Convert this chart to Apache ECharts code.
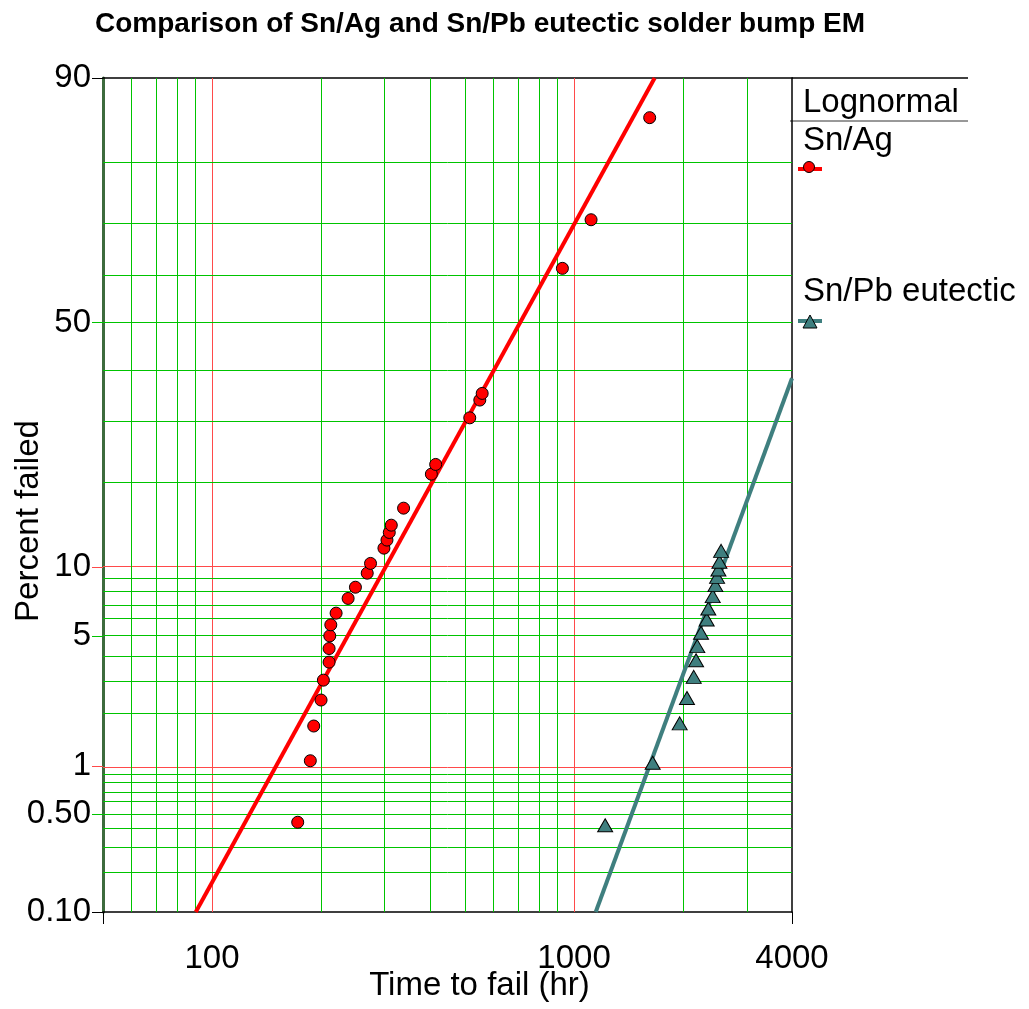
<!DOCTYPE html>
<html>
<head>
<meta charset="utf-8">
<title>Sn/Ag vs Sn/Pb EM</title>
<script src="https://cdn.jsdelivr.net/npm/echarts@6/dist/echarts.min.js"></script>
<style>
    html, body { margin: 0; padding: 0; background: #fff; }
    #chart { width: 1029px; height: 1009px; }
</style>
</head>
<body>
<div id="chart"></div>
<script>
// Sn/Ag 失效点 (小时, 失效百分比)
var snAgHours = [172.5, 186.9, 191.0, 200.1, 203.1, 210.6, 210.6, 211.5, 212.9, 220.2, 237.7, 249.0, 268.4, 274.1, 298.5, 304.3, 308.8, 312.8, 338.2, 403.6, 414.8, 515.2, 549.2, 557.6, 928.8, 1114.5, 1617.9];
var snAgPercent = [0.44, 1.08, 1.72, 2.39, 3.04, 3.75, 4.37, 5.02, 5.65, 6.38, 7.40, 8.26, 9.44, 10.33, 11.84, 12.70, 13.55, 14.40, 16.52, 21.33, 22.84, 30.86, 34.21, 35.50, 61.17, 70.49, 85.85];
// Sn/Pb eutectic 失效点
var snPbHours = [1219, 1649, 1958, 2051, 2141, 2173, 2190, 2243, 2325, 2349, 2416, 2457, 2484, 2505, 2521, 2548];
var snPbPercent = [0.42, 1.05, 1.78, 2.45, 3.16, 3.83, 4.49, 5.19, 5.97, 6.69, 7.57, 8.43, 9.12, 9.77, 10.48, 11.56];
// 拟合直线端点
var snAgFitHours = [90.2, 1670];
var snAgFitPercent = [0.1, 90];
var snPbFitHours = [1148, 4000];
var snPbFitPercent = [0.1, 38.5];

// 坐标轴 & 网格线
var xMin = 50, xMax = 4000;
var xLabelValues = [100, 1000, 4000];
var xMajorLines = [100, 1000];
var xMinorLines = [60, 70, 80, 90, 200, 300, 400, 500, 600, 700, 800, 900, 2000, 3000];
var yMin = 0.1, yMax = 90;
var yLabelValues = [0.1, 0.5, 1, 5, 10, 50, 90];
var yLabelTexts = ['0.10', '0.50', '1', '5', '10', '50', '90'];
var yMajorLines = [1, 10];
var yMinorLines = [0.2, 0.3, 0.4, 0.5, 0.6, 0.7, 0.8, 0.9, 2, 3, 4, 5, 6, 7, 8, 9, 20, 30, 40, 50, 60, 70, 80];

var FONT = 'Liberation Sans, Arial, sans-serif';
var RED = '#ff0000', TEAL = '#3f7f7f', GREEN = '#00c400', GRID_RED = '#ff4a4a';

// 正态概率纸: 百分比 -> 标准正态分位数 (Acklam 近似)
function probit(pct) {
    var p = pct / 100;
    var a = [-3.969683028665376e+01, 2.209460984245205e+02, -2.759285104469687e+02, 1.383577518672690e+02, -3.066479806614716e+01, 2.506628277459239e+00];
    var b = [-5.447609879822406e+01, 1.615858368580409e+02, -1.556989798598866e+02, 6.680131188771972e+01, -1.328068155288572e+01];
    var c = [-7.784894002430293e-03, -3.223964580411365e-01, -2.400758277161838e+00, -2.549732539343734e+00, 4.374664141464968e+00, 2.938163982698783e+00];
    var d = [7.784695709041462e-03, 3.224671290700398e-01, 2.445134137142996e+00, 3.754408661907416e+00];
    var plow = 0.02425, q, r;
    if (p < plow) {
        q = Math.sqrt(-2 * Math.log(p));
        return (((((c[0]*q+c[1])*q+c[2])*q+c[3])*q+c[4])*q+c[5]) / ((((d[0]*q+d[1])*q+d[2])*q+d[3])*q+1);
    }
    if (p > 1 - plow) {
        q = Math.sqrt(-2 * Math.log(1 - p));
        return -(((((c[0]*q+c[1])*q+c[2])*q+c[3])*q+c[4])*q+c[5]) / ((((d[0]*q+d[1])*q+d[2])*q+d[3])*q+1);
    }
    q = p - 0.5; r = q * q;
    return (((((a[0]*r+a[1])*r+a[2])*r+a[3])*r+a[4])*r+a[5])*q / (((((b[0]*r+b[1])*r+b[2])*r+b[3])*r+b[4])*r+1);
}

function pairs(xs, ps) {
    return xs.map(function(x, i){ return [x, probit(ps[i])]; });
}

function yLabel(v) {
    for (var i = 0; i < yLabelValues.length; i++) {
        if (Math.abs(probit(yLabelValues[i]) - v) < 1e-6) return yLabelTexts[i];
    }
    return '';
}

// 网格线用 markLine 画 (绿色细线 / 红色主线)
function gridMarks(xs, ys, color) {
    var data = [];
    xs.forEach(function(v){ data.push({ xAxis: v }); });
    ys.forEach(function(v){ data.push({ yAxis: probit(v) }); });
    return {
        silent: true, symbol: 'none', z: 1, animation: false,
        label: { show: false },
        emphasis: { disabled: true },
        lineStyle: { type: 'solid', width: 1, color: color, opacity: 1 },
        data: data
    };
}

function tickAxisX(values, color, len) {
    return {
        type: 'log', logBase: 10, min: xMin, max: xMax, position: 'bottom',
        axisLine: { show: false }, splitLine: { show: false }, axisLabel: { show: false },
        axisTick: { show: true, customValues: values, length: len, lineStyle: { color: color, width: 1 } }
    };
}
function tickAxisY(values, color, len) {
    return {
        type: 'value', min: probit(yMin), max: probit(yMax), position: 'left',
        axisLine: { show: false }, splitLine: { show: false }, axisLabel: { show: false },
        axisTick: { show: true, customValues: values.map(probit), length: len, lineStyle: { color: color, width: 1 } }
    };
}

var chart = echarts.init(document.getElementById('chart'));
var option = {
    animation: false,
    backgroundColor: '#fff',
    title: {
        text: 'Comparison of Sn/Ag and Sn/Pb eutectic solder bump EM',
        left: 90, top: 5,
        textStyle: { fontFamily: FONT, fontSize: 28, fontWeight: 'bold', color: '#000' }
    },
    grid: { left: 103, right: 237, top: 78, bottom: 97, containLabel: false, outerBoundsMode: 'none' },
    xAxis: [
        {
            type: 'log', logBase: 10, min: xMin, max: xMax, position: 'bottom',
            name: 'Time to fail (hr)', nameLocation: 'middle', nameGap: 57, nameMoveOverlap: false,
            nameTextStyle: { fontFamily: FONT, fontSize: 33, color: '#000', padding: [0, 0, 0, 64] },
            axisLine: { onZero: false, lineStyle: { color: '#000', width: 1.5 } },
            axisTick: { show: true, customValues: [xMin, xMax], length: 12, lineStyle: { color: '#000' } },
            axisLabel: {
                customValues: xLabelValues, formatter: function(v){ return String(Math.round(v)); },
                fontFamily: FONT, fontSize: 33, color: '#000', margin: 30
            },
            splitLine: { show: false }
        },
        tickAxisX(xMajorLines, GRID_RED, 12),
        tickAxisX([500], GREEN, 5),
        {
            type: 'log', logBase: 10, min: xMin, max: xMax, position: 'top',
            axisLine: { onZero: false, lineStyle: { color: '#000', width: 1.5 } },
            axisTick: { show: false }, axisLabel: { show: false }, splitLine: { show: false }
        }
    ],
    yAxis: [
        {
            type: 'value', min: probit(yMin), max: probit(yMax), position: 'left',
            name: 'Percent failed', nameLocation: 'middle', nameRotate: 90, nameGap: 58, nameMoveOverlap: false,
            nameTextStyle: { fontFamily: FONT, fontSize: 33, color: '#000', padding: [0, 52, 0, 0] },
            axisLine: { onZero: false, lineStyle: { color: '#3d6b3d', width: 3 } },
            axisTick: { show: true, customValues: [probit(yMin), probit(yMax)], length: 11, lineStyle: { color: '#000' } },
            axisLabel: {
                customValues: yLabelValues.map(probit), formatter: yLabel,
                fontFamily: FONT, fontSize: 33, color: '#000', margin: 12
            },
            splitLine: { show: false }
        },
        tickAxisY(yMajorLines, GRID_RED, 11),
        tickAxisY([0.5, 5, 50], GREEN, 11),
        {
            type: 'value', min: probit(yMin), max: probit(yMax), position: 'right',
            axisLine: { show: true, onZero: false, lineStyle: { color: '#000', width: 1.5 } },
            axisTick: { show: false }, axisLabel: { show: false }, splitLine: { show: false }
        }
    ],
    series: [
        {
            name: 'Sn/Ag fit', type: 'line', data: pairs(snAgFitHours, snAgFitPercent),
            symbol: 'none', z: 2, lineStyle: { color: RED, width: 4 },
            markLine: gridMarks(xMajorLines, yMajorLines, GRID_RED)
        },
        {
            name: 'Sn/Pb fit', type: 'line', data: pairs(snPbFitHours, snPbFitPercent),
            symbol: 'none', z: 2, lineStyle: { color: TEAL, width: 4 },
            markLine: gridMarks(xMinorLines, yMinorLines, GREEN)
        },
        {
            name: 'Sn/Ag', type: 'scatter', data: pairs(snAgHours, snAgPercent), z: 3,
            symbol: 'circle', symbolSize: 12,
            itemStyle: { color: RED, borderColor: '#000', borderWidth: 1, opacity: 1 }
        },
        {
            name: 'Sn/Pb eutectic', type: 'scatter', data: pairs(snPbHours, snPbPercent), z: 3,
            symbol: 'triangle', symbolSize: [15, 13],
            itemStyle: { color: TEAL, borderColor: '#000', borderWidth: 1, opacity: 1 }
        }
    ],
    // 右侧图例
    graphic: [
        { type: 'line', shape: { x1: 792, y1: 78, x2: 968, y2: 78 }, style: { stroke: '#000', lineWidth: 1.5 } },
        { type: 'line', shape: { x1: 790, y1: 121, x2: 968, y2: 121 }, style: { stroke: '#333', lineWidth: 1 } },
        { type: 'text', x: 803, y: 103, style: { text: 'Lognormal', font: '33px ' + FONT, fill: '#000', verticalAlign: 'middle' } },
        { type: 'text', x: 803, y: 141, style: { text: 'Sn/Ag', font: '33px ' + FONT, fill: '#000', verticalAlign: 'middle' } },
        { type: 'line', shape: { x1: 798, y1: 169, x2: 822, y2: 169 }, style: { stroke: RED, lineWidth: 4 } },
        { type: 'circle', shape: { cx: 809, cy: 167, r: 5.5 }, style: { fill: RED, stroke: '#000', lineWidth: 1 } },
        { type: 'text', x: 803, y: 292, style: { text: 'Sn/Pb eutectic', font: '33px ' + FONT, fill: '#000', verticalAlign: 'middle' } },
        { type: 'line', shape: { x1: 798, y1: 321, x2: 822, y2: 321 }, style: { stroke: TEAL, lineWidth: 4 } },
        { type: 'polygon', shape: { points: [[810, 315], [817, 328], [803, 328]] }, style: { fill: TEAL, stroke: '#000', lineWidth: 1 } }
    ]
};
chart.setOption(option);
</script>
</body>
</html>
